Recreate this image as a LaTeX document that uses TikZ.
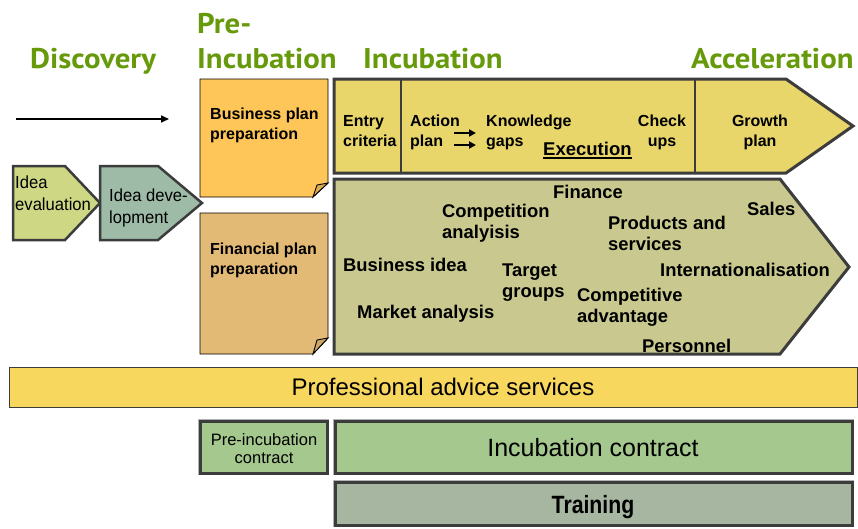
\documentclass[tikz,border=0pt]{standalone}
\usepackage{fontspec}
\setmainfont{Liberation Sans}
\newfontfamily\titlefont{PT Sans}[FakeStretch=1.08]
\newfontfamily\condfont{Liberation Sans}[FakeStretch=0.95]
\newfontfamily\trainfont{Liberation Sans}[FakeStretch=0.85]
\usetikzlibrary{arrows.meta}
\definecolor{titlegreen}{RGB}{102,154,10}
\definecolor{bpnote}{RGB}{254,197,88}
\definecolor{fpnote}{RGB}{226,186,118}
\definecolor{bpfold}{RGB}{222,170,80}
\definecolor{fpfold}{RGB}{205,165,100}
\definecolor{incfill}{RGB}{232,214,106}
\definecolor{khaki}{RGB}{201,201,143}
\definecolor{ideaev}{RGB}{205,215,132}
\definecolor{ideadev}{RGB}{157,187,166}
\definecolor{profbar}{RGB}{248,215,94}
\definecolor{contract}{RGB}{165,200,142}
\definecolor{trainfill}{RGB}{166,182,160}
\definecolor{edge}{RGB}{60,60,60}
\newcommand{\twoL}[2]{\begin{tabular}[t]{@{}l@{}}#1\\#2\end{tabular}}
\newcommand{\twoC}[2]{\begin{tabular}[t]{@{}c@{}}#1\\#2\end{tabular}}
\begin{document}
\begin{tikzpicture}[x=1pt,y=-1pt,
  ttl/.style={font=\titlefont\bfseries\fontsize{28.5}{30}\selectfont, text=titlegreen, anchor=base west, inner sep=0},
  lbl/.style={font=\bfseries\fontsize{16}{20}\selectfont, anchor=base west, inner sep=0},
  lblc/.style={font=\bfseries\fontsize{16}{20}\selectfont, anchor=base, inner sep=0},
  big/.style={font=\bfseries\fontsize{18.4}{21.5}\selectfont, anchor=base west, inner sep=0},
  cond/.style={font=\condfont\fontsize{17.5}{22.5}\selectfont, anchor=base west, inner sep=0},
  note/.style={draw=black, line width=0.9},
  fold/.style={draw=black, line width=0.9},
  heavy/.style={draw=edge, line width=3, line join=miter},
  pent/.style={draw=edge, line width=2.5, line join=miter},
  smallarrow/.style={line width=2, -{Triangle[length=7,width=7]}}]
\useasboundingbox (0,0) rectangle (858,528);

% ---- titles
\node[ttl] (tdisc) at (30,68) {Discovery};
\node[ttl] (tpre) at (197,33) {Pre-};
\node[ttl] (tpreinc) at (197,68) {Incubation};
\node[ttl] (tinc) at (363,68) {Incubation};
\node[ttl] (tacc) at (691,68) {Acceleration};

% ---- long arrow
\coordinate (la1) at (16,119);
\coordinate (la2) at (169,119);
\draw[line width=1.6, -{Triangle[length=8,width=7]}] (la1) -- (la2);

% ---- discovery pentagons
\draw[pent, fill=ideaev] (13,166) -- (65,166) -- (100,203) -- (65,240) -- (13,240) -- cycle;
\draw[pent, fill=ideadev] (100,166) -- (158,166) -- (202,203) -- (158,240) -- (100,240) -- cycle;
\node[cond] (ideaev) at (15,188) {\twoL{Idea}{evaluation}};
\node[cond] (ideadev) at (109,201) {\twoL{Idea deve-}{lopment}};

% ---- pre-incubation notes
\draw[note, fill=bpnote] (200,79) -- (328,79) -- (328,183) -- (313,197) -- (200,197) -- cycle;
\draw[fold, fill=bpfold] (313,197) -- (317,185) -- (328,183) -- cycle;
\draw[note, fill=fpnote] (200,213) -- (328,213) -- (328,338) -- (313,354) -- (200,354) -- cycle;
\draw[fold, fill=fpfold] (313,354) -- (317,340) -- (328,338) -- cycle;
\node[lbl] (bpp) at (210,119) {\twoL{Business plan}{preparation}};
\node[lbl] (fpp) at (210,254) {\twoL{Financial plan}{preparation}};

% ---- incubation top arrow
\draw[heavy, fill=incfill] (334,79) -- (786,79) -- (853,126) -- (786,173) -- (334,173) -- cycle;
\draw[edge, line width=2.5] (401,79) -- (401,173);
\draw[edge, line width=2.5] (695,79) -- (695,173);
\node[lbl] (entry) at (343,126) {\twoL{Entry}{criteria}};
\node[lbl] (action) at (410,126) {\twoL{Action}{plan}};
\node[lbl] (know) at (486,126) {\twoL{Knowledge}{gaps}};
\node[lblc] (check) at (662,126) {\twoC{Check}{ups}};
\node[lblc] (growth) at (760,126) {\twoC{Growth}{plan}};
\node[font=\bfseries\fontsize{18.5}{22}\selectfont, anchor=base west, inner sep=0] (exec) at (543,155) {Execution};
\draw[line width=1.6] ([yshift=-3pt]exec.base west) -- ([yshift=-3pt]exec.base east);
\coordinate (sa1) at (454,133); \coordinate (sa2) at (476,133);
\coordinate (sb1) at (454,145); \coordinate (sb2) at (476,145);
\draw[smallarrow] (sa1) -- (sa2);
\draw[smallarrow] (sb1) -- (sb2);

% ---- incubation lower arrow
\draw[heavy, fill=khaki] (334,179) -- (780,179) -- (849,267) -- (780,354) -- (334,354) -- cycle;
\node[big] (fin) at (553,198) {Finance};
\node[big] (comp) at (442,217) {\twoL{Competition}{analyisis}};
\node[big] (prod) at (608,229) {\twoL{Products and}{services}};
\node[big] (sales) at (747,215) {Sales};
\node[big] (bidea) at (343,271) {Business idea};
\node[big] (target) at (502,276) {\twoL{Target}{groups}};
\node[big] (intl) at (660,276) {Internationalisation};
\node[big] (cadv) at (577,301) {\twoL{Competitive}{advantage}};
\node[big] (market) at (357,318) {Market analysis};
\node[big] (pers) at (642,352) {Personnel};

% ---- bottom bars
\draw[draw=edge, line width=1, fill=profbar] (9,367) rectangle (857,407);
\node[font=\fontsize{24}{28}\selectfont, anchor=base, inner sep=0] (prof) at (443,395) {Professional advice services};
\draw[draw=gray!60, line width=1] (198.5,419.5) rectangle (328.5,474.5);
\draw[heavy, fill=contract] (200,421) rectangle (327,473);
\node[font=\fontsize{16.5}{18.5}\selectfont, anchor=base, inner sep=0] (precon) at (264,445) {\twoC{Pre-incubation}{contract}};
\draw[draw=gray!60, line width=1] (333.5,419.5) rectangle (853.5,474.5);
\draw[heavy, fill=contract] (335,421) rectangle (852,473);
\node[font=\fontsize{25}{28}\selectfont, anchor=base, inner sep=0] (inccon) at (593,456) {Incubation contract};
\draw[draw=gray!60, line width=1] (333.5,480.5) rectangle (853.5,526.5);
\draw[heavy, fill=trainfill] (335,482) rectangle (852,525);
\node[font=\trainfont\bfseries\fontsize{25}{28}\selectfont, anchor=base, inner sep=0] (train) at (593,513) {Training};
\end{tikzpicture}
\end{document}
